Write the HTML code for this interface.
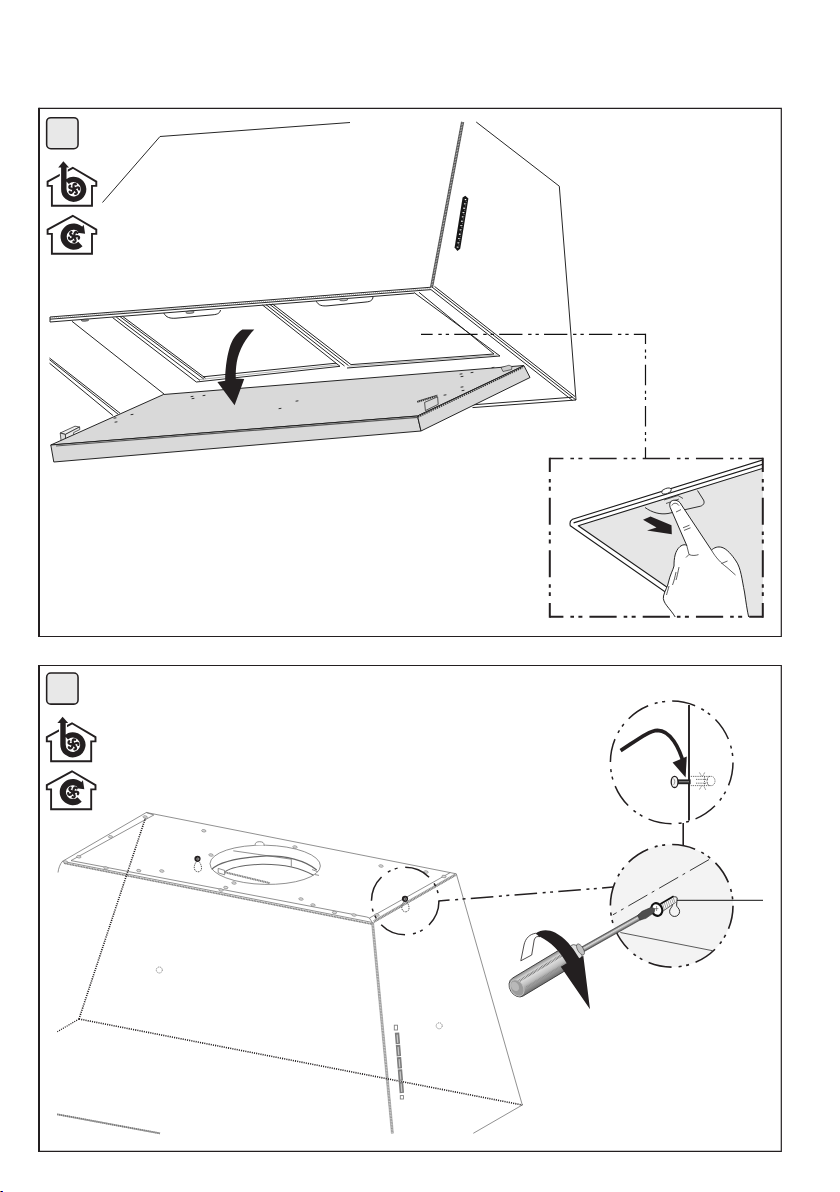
<!DOCTYPE html>
<html lang="en"><head><meta charset="utf-8"><title>Installation</title>
<style>
html,body{margin:0;padding:0;background:#fff;}
body{width:840px;height:1192px;overflow:hidden;font-family:"Liberation Sans",sans-serif;}
svg{display:block}
</style></head><body>
<svg width="840" height="1192" viewBox="0 0 840 1192">
<path d="M39.4,108.3 H781.3 V636.5 H39.4" fill="none" stroke="#231f20" stroke-width="1.2"/>
<path d="M39.0,107.7 V637.1" fill="none" stroke="#231f20" stroke-width="2"/>
<path d="M39.4,665.5 H781.3 V1151.3 H39.4" fill="none" stroke="#231f20" stroke-width="1.2"/>
<path d="M39.0,664.9 V1151.8999999999999" fill="none" stroke="#231f20" stroke-width="2"/>
<rect x="46.65" y="117.65" width="31.4" height="31.1" rx="4.2" fill="#e8e8e8" stroke="#231f20" stroke-width="1.55"/>
<rect x="46.65" y="673.0" width="31.4" height="31.1" rx="4.2" fill="#e8e8e8" stroke="#231f20" stroke-width="1.55"/>
<g>
<g fill="none" stroke="#231f20" stroke-width="1.9" stroke-linejoin="miter">
<path d="M72.8,167.8 L47.6,181.6 V185.9 H51.9 V205.8 H92 V185.9 H96.3 V181.6 Z"/>
</g>
<path d="M63.8,166 V189" stroke="#fff" stroke-width="8" fill="none"/>
<circle cx="74" cy="189" r="7.2" fill="#fff"/>
<path d="M63.8,166.5 V189 A9.9,9.9 0 1 0 67.0,182.0" fill="none" stroke="#231f20" stroke-width="5.4"/>
<path d="M63.4,161.2 L69,167.6 H58.2Z" fill="#231f20"/>
<g transform="translate(74,189) rotate(0) scale(1.13)" fill="none" stroke="#231f20" stroke-width="2.0" stroke-linecap="round">
<path transform="rotate(0)" d="M0,-0.8 C-0.5,-2 -0.7,-3.0 -0.3,-3.9 C0.1,-4.6 0.9,-4.7 1.7,-4.2"/>
<path transform="rotate(72)" d="M0,-0.8 C-0.5,-2 -0.7,-3.0 -0.3,-3.9 C0.1,-4.6 0.9,-4.7 1.7,-4.2"/>
<path transform="rotate(144)" d="M0,-0.8 C-0.5,-2 -0.7,-3.0 -0.3,-3.9 C0.1,-4.6 0.9,-4.7 1.7,-4.2"/>
<path transform="rotate(216)" d="M0,-0.8 C-0.5,-2 -0.7,-3.0 -0.3,-3.9 C0.1,-4.6 0.9,-4.7 1.7,-4.2"/>
<path transform="rotate(288)" d="M0,-0.8 C-0.5,-2 -0.7,-3.0 -0.3,-3.9 C0.1,-4.6 0.9,-4.7 1.7,-4.2"/>
<circle r="1.2" fill="#231f20" stroke="none"/></g>
<g fill="none" stroke="#231f20" stroke-width="1.9" stroke-linejoin="miter">
<path d="M72.8,215.8 L47.6,229.6 V233.9 H51.9 V253.8 H92 V233.9 H96.3 V229.6 Z"/>
</g>
<path d="M80.42,243.91 A10.0,10.0 0 1 1 81.26,230.17" fill="none" stroke="#231f20" stroke-width="6.2"/>
<path d="M83.7,224.8 L85.1,233.8 L77.4,232.8Z" fill="#231f20"/>
<g transform="translate(74.0,236.6) rotate(20) scale(1.13)" fill="none" stroke="#231f20" stroke-width="2.0" stroke-linecap="round">
<path transform="rotate(0)" d="M0,-0.8 C-0.5,-2 -0.7,-3.0 -0.3,-3.9 C0.1,-4.6 0.9,-4.7 1.7,-4.2"/>
<path transform="rotate(72)" d="M0,-0.8 C-0.5,-2 -0.7,-3.0 -0.3,-3.9 C0.1,-4.6 0.9,-4.7 1.7,-4.2"/>
<path transform="rotate(144)" d="M0,-0.8 C-0.5,-2 -0.7,-3.0 -0.3,-3.9 C0.1,-4.6 0.9,-4.7 1.7,-4.2"/>
<path transform="rotate(216)" d="M0,-0.8 C-0.5,-2 -0.7,-3.0 -0.3,-3.9 C0.1,-4.6 0.9,-4.7 1.7,-4.2"/>
<path transform="rotate(288)" d="M0,-0.8 C-0.5,-2 -0.7,-3.0 -0.3,-3.9 C0.1,-4.6 0.9,-4.7 1.7,-4.2"/>
<circle r="1.2" fill="#231f20" stroke="none"/></g>
</g>
<g transform="translate(-0.8,555.5)">
<g fill="none" stroke="#231f20" stroke-width="1.9" stroke-linejoin="miter">
<path d="M72.8,167.8 L47.6,181.6 V185.9 H51.9 V205.8 H92 V185.9 H96.3 V181.6 Z"/>
</g>
<path d="M63.8,166 V189" stroke="#fff" stroke-width="8" fill="none"/>
<circle cx="74" cy="189" r="7.2" fill="#fff"/>
<path d="M63.8,166.5 V189 A9.9,9.9 0 1 0 67.0,182.0" fill="none" stroke="#231f20" stroke-width="5.4"/>
<path d="M63.4,161.2 L69,167.6 H58.2Z" fill="#231f20"/>
<g transform="translate(74,189) rotate(0) scale(1.13)" fill="none" stroke="#231f20" stroke-width="2.0" stroke-linecap="round">
<path transform="rotate(0)" d="M0,-0.8 C-0.5,-2 -0.7,-3.0 -0.3,-3.9 C0.1,-4.6 0.9,-4.7 1.7,-4.2"/>
<path transform="rotate(72)" d="M0,-0.8 C-0.5,-2 -0.7,-3.0 -0.3,-3.9 C0.1,-4.6 0.9,-4.7 1.7,-4.2"/>
<path transform="rotate(144)" d="M0,-0.8 C-0.5,-2 -0.7,-3.0 -0.3,-3.9 C0.1,-4.6 0.9,-4.7 1.7,-4.2"/>
<path transform="rotate(216)" d="M0,-0.8 C-0.5,-2 -0.7,-3.0 -0.3,-3.9 C0.1,-4.6 0.9,-4.7 1.7,-4.2"/>
<path transform="rotate(288)" d="M0,-0.8 C-0.5,-2 -0.7,-3.0 -0.3,-3.9 C0.1,-4.6 0.9,-4.7 1.7,-4.2"/>
<circle r="1.2" fill="#231f20" stroke="none"/></g>
<g fill="none" stroke="#231f20" stroke-width="1.9" stroke-linejoin="miter">
<path d="M72.8,215.8 L47.6,229.6 V233.9 H51.9 V253.8 H92 V233.9 H96.3 V229.6 Z"/>
</g>
<path d="M80.42,243.91 A10.0,10.0 0 1 1 81.26,230.17" fill="none" stroke="#231f20" stroke-width="6.2"/>
<path d="M83.7,224.8 L85.1,233.8 L77.4,232.8Z" fill="#231f20"/>
<g transform="translate(74.0,236.6) rotate(20) scale(1.13)" fill="none" stroke="#231f20" stroke-width="2.0" stroke-linecap="round">
<path transform="rotate(0)" d="M0,-0.8 C-0.5,-2 -0.7,-3.0 -0.3,-3.9 C0.1,-4.6 0.9,-4.7 1.7,-4.2"/>
<path transform="rotate(72)" d="M0,-0.8 C-0.5,-2 -0.7,-3.0 -0.3,-3.9 C0.1,-4.6 0.9,-4.7 1.7,-4.2"/>
<path transform="rotate(144)" d="M0,-0.8 C-0.5,-2 -0.7,-3.0 -0.3,-3.9 C0.1,-4.6 0.9,-4.7 1.7,-4.2"/>
<path transform="rotate(216)" d="M0,-0.8 C-0.5,-2 -0.7,-3.0 -0.3,-3.9 C0.1,-4.6 0.9,-4.7 1.7,-4.2"/>
<path transform="rotate(288)" d="M0,-0.8 C-0.5,-2 -0.7,-3.0 -0.3,-3.9 C0.1,-4.6 0.9,-4.7 1.7,-4.2"/>
<circle r="1.2" fill="#231f20" stroke="none"/></g>
</g>
<path d="M102.50,202.50 L160.00,136.50 L350.00,122.50" fill="none" stroke="#1a1a1a" stroke-width="0.95" />
<path d="M462.60,122.00 L431.60,287.00" fill="none" stroke="#b8b8b8" stroke-width="2.3" />
<path d="M462.60,122.00 L431.60,287.00" fill="none" stroke="#1a1a1a" stroke-width="2.3" stroke-dasharray="0.55 1.0" opacity="0.8"/>
<path d="M461.47,121.79 L430.47,286.79" fill="none" stroke="#1a1a1a" stroke-width="0.6" />
<path d="M463.73,122.21 L432.73,287.21" fill="none" stroke="#1a1a1a" stroke-width="0.6" />
<path d="M476.20,122.00 L559.30,186.20 L568.30,300.00 L576.00,400.00" fill="none" stroke="#1a1a1a" stroke-width="0.95" />
<path d="M465.3,195.8 L468.4,198.6 L460.2,248.8 L457.4,251 L454.6,247.6 L462.6,197.6Z" fill="#161616"/>
<path d="M465.60,199.00 L457.40,247.60" fill="none" stroke="#fff" stroke-width="1.5" stroke-dasharray="1.1 3.3"/>
<path d="M466.30,201.20 L458.40,248.00" fill="none" stroke="#ddd" stroke-width="0.6" stroke-dasharray="0.8 1.4"/>
<path d="M50.00,317.00 L431.50,287.20" fill="none" stroke="#1a1a1a" stroke-width="0.95" />
<path d="M50.00,319.20 L431.00,289.60" fill="none" stroke="#1a1a1a" stroke-width="0.95" />
<path d="M50.00,318.10 L431.00,288.40" fill="none" stroke="#888" stroke-width="1.6" stroke-dasharray="0.6 1.4"/>
<path d="M50.00,322.00 L414.00,293.20" fill="none" stroke="#1a1a1a" stroke-width="0.95" />
<path d="M50.00,317.00 L50.00,322.00" fill="none" stroke="#1a1a1a" stroke-width="0.95" />
<path d="M432.00,287.00 L576.00,400.00" fill="none" stroke="#1a1a1a" stroke-width="0.95" />
<path d="M434.50,286.40 L575.00,396.50" fill="none" stroke="#1a1a1a" stroke-width="0.95" />
<path d="M431.00,289.60 L572.50,400.50" fill="none" stroke="#1a1a1a" stroke-width="0.95" />
<path d="M472.50,407.60 L576.00,400.00" fill="none" stroke="#1a1a1a" stroke-width="0.95" />
<path d="M470.50,405.00 L572.50,397.20" fill="none" stroke="#1a1a1a" stroke-width="0.95" />
<path d="M72.00,321.30 L164.00,394.00" fill="none" stroke="#1a1a1a" stroke-width="0.95" />
<path d="M49.50,358.00 L120.00,413.20" fill="none" stroke="#1a1a1a" stroke-width="0.95" />
<path d="M49.50,359.70 L118.00,414.10" fill="none" stroke="#1a1a1a" stroke-width="0.95" />
<path d="M49.50,363.20 L113.00,415.60" fill="none" stroke="#1a1a1a" stroke-width="0.95" />
<path d="M112.50,317.50 L196.30,382.00" fill="none" stroke="#1a1a1a" stroke-width="0.95" />
<path d="M116.30,317.10 L200.00,380.40" fill="none" stroke="#1a1a1a" stroke-width="0.95" />
<path d="M120.00,316.60 L203.80,379.00" fill="none" stroke="#1a1a1a" stroke-width="0.95" />
<path d="M122.50,316.30 L205.50,378.20" fill="none" stroke="#1a1a1a" stroke-width="0.95" />
<path d="M196.30,382.00 L340.00,366.30" fill="none" stroke="#1a1a1a" stroke-width="0.95" />
<path d="M203.00,376.80 L336.00,363.20" fill="none" stroke="#1a1a1a" stroke-width="0.95" />
<path d="M200.00,379.50 L338.00,364.80" fill="none" stroke="#666" stroke-width="0.5" />
<path d="M262.50,305.00 L340.00,366.30" fill="none" stroke="#1a1a1a" stroke-width="0.95" />
<path d="M266.00,304.60 L344.50,366.00" fill="none" stroke="#1a1a1a" stroke-width="0.95" />
<path d="M269.50,304.20 L348.50,365.60" fill="none" stroke="#1a1a1a" stroke-width="0.95" />
<path d="M272.50,304.00 L351.00,364.60" fill="none" stroke="#1a1a1a" stroke-width="0.95" />
<path d="M347.00,368.00 L500.00,356.00" fill="none" stroke="#1a1a1a" stroke-width="0.95" />
<path d="M351.00,364.60 L494.00,354.00" fill="none" stroke="#1a1a1a" stroke-width="0.95" />
<path d="M349.00,366.20 L497.00,355.00" fill="none" stroke="#666" stroke-width="0.5" />
<path d="M414.00,292.50 L500.00,356.00" fill="none" stroke="#1a1a1a" stroke-width="0.95" />
<path d="M419.00,292.30 L494.00,354.00" fill="none" stroke="#1a1a1a" stroke-width="0.95" />
<path d="M163.8,313 C166,317.5 170,318.6 176,318.2 L213,314.8 C218,314.4 220,312.8 220.5,310" fill="none" stroke="#1a1a1a" stroke-width="0.95"/>
<ellipse cx="190" cy="312.2" rx="4.2" ry="1.2" fill="#bbb" stroke="#1a1a1a" stroke-width="0.6" transform="rotate(-4 190 312.2)"/>
<path d="M316.3,301.2 C318.5,305.5 322,306.3 328,305.8 L366,302 C371,301.6 372.6,300 373,297" fill="none" stroke="#1a1a1a" stroke-width="0.95"/>
<ellipse cx="343.8" cy="299.6" rx="4.2" ry="1.2" fill="#bbb" stroke="#1a1a1a" stroke-width="0.6" transform="rotate(-4 343.8 299.6)"/>
<ellipse cx="85" cy="320.2" rx="3.8" ry="1" fill="#999" stroke="#1a1a1a" stroke-width="0.6" transform="rotate(-4 85 320.2)"/>
<path d="M60.20,433.00 L75.00,426.20 L79.60,427.00 L65.40,434.40Z" fill="#eee" stroke="#1a1a1a" stroke-width="0.7" stroke-linejoin="round" />
<path d="M60.20,433.00 L65.40,434.40 L65.80,442.00 L61.40,443.60Z" fill="#ddd" stroke="#1a1a1a" stroke-width="0.7" stroke-linejoin="round" />
<path d="M65.40,434.40 L79.60,427.00 L79.80,429.60 L73.60,432.60 L74.00,437.60 L65.80,442.00Z" fill="#e8e8e8" stroke="#1a1a1a" stroke-width="0.7" stroke-linejoin="round" />
<path d="M163.50,394.50 L524.00,365.50 L417.50,416.00 L50.80,445.00Z" fill="#d9d9d9" stroke="#1a1a1a" stroke-width="0.95" stroke-linejoin="round" />
<path d="M50.80,445.00 L417.50,416.00 L421.00,431.00 L53.80,462.00Z" fill="#d9d9d9" stroke="#1a1a1a" stroke-width="0.95" stroke-linejoin="round" />
<path d="M417.50,416.00 L524.00,365.80 L530.00,377.50 L421.00,431.00Z" fill="#d9d9d9" stroke="#1a1a1a" stroke-width="0.95" stroke-linejoin="round" />
<path d="M56.00,446.00 L417.60,417.40" fill="none" stroke="#5a5a5a" stroke-width="1.2" />
<path d="M418.00,417.00 L522.50,367.60" fill="none" stroke="#333" stroke-width="1.6" stroke-dasharray="1.4 0.9"/>
<path d="M424.60,402.40 L437.60,396.80 L438.20,404.40 L425.40,410.60Z" fill="#d9d9d9" stroke="#1a1a1a" stroke-width="0.7" stroke-linejoin="round" />
<path d="M417.30,402.00 L437.40,395.80" fill="none" stroke="#333" stroke-width="1.7" stroke-dasharray="1.2 0.7"/>
<path d="M417.30,401.30 L437.40,395.10" fill="none" stroke="#1a1a1a" stroke-width="0.6" />
<path d="M501.00,367.50 L509.00,365.20 L512.00,366.50 L511.50,369.50 L503.00,371.50Z" fill="#ccc" stroke="#1a1a1a" stroke-width="0.6" stroke-linejoin="round" />
<path d="M190.60,396.70 L193.40,396.30" fill="none" stroke="#333" stroke-width="1.0" />
<path d="M191.60,398.70 L194.40,398.30" fill="none" stroke="#333" stroke-width="1.0" />
<path d="M202.60,395.70 L205.40,395.30" fill="none" stroke="#333" stroke-width="1.0" />
<path d="M113.60,418.20 L116.40,417.80" fill="none" stroke="#333" stroke-width="1.0" />
<path d="M114.60,422.20 L117.40,421.80" fill="none" stroke="#333" stroke-width="1.0" />
<path d="M130.60,414.70 L133.40,414.30" fill="none" stroke="#333" stroke-width="1.0" />
<path d="M278.60,408.70 L281.40,408.30" fill="none" stroke="#333" stroke-width="1.0" />
<path d="M295.60,401.20 L298.40,400.80" fill="none" stroke="#333" stroke-width="1.0" />
<path d="M459.60,374.20 L462.40,373.80" fill="none" stroke="#333" stroke-width="1.0" />
<path d="M460.60,376.70 L463.40,376.30" fill="none" stroke="#333" stroke-width="1.0" />
<path d="M470.60,372.70 L473.40,372.30" fill="none" stroke="#333" stroke-width="1.0" />
<path d="M460.60,387.20 L463.40,386.80" fill="none" stroke="#333" stroke-width="1.0" />
<path d="M461.60,390.70 L464.40,390.30" fill="none" stroke="#333" stroke-width="1.0" />
<path d="M443.60,395.20 L446.40,394.80" fill="none" stroke="#333" stroke-width="1.0" />
<path d="M491.60,367.70 L494.40,367.30" fill="none" stroke="#333" stroke-width="1.0" />
<path d="M242.4,329.6 L254.3,329.6 C246,338 239,350 236.8,362 C235.8,368 235.6,374 235.8,378.6 L244.2,379 L234.6,405.2 L217.4,382 L225.2,380.8 C225,372 226.5,358 229.5,348 C232,340 236,333.5 242.4,329.6Z" fill="#231f20"/>
<path d="M421.00,334.30 L645.50,334.30" fill="none" stroke="#111" stroke-width="1.2" stroke-dasharray="23.3 5.7 3.4 4 3.3 5.2" stroke-dashoffset="11.65"/>
<path d="M645.50,333.70 L645.50,458.10" fill="none" stroke="#111" stroke-width="1.2" stroke-dasharray="20.6 5.5 3 3.3 3 5.87" stroke-dashoffset="10.3"/>
<clipPath id="c1"><rect x="550" y="458.6" width="213" height="158.4"/></clipPath>
<g clip-path="url(#c1)">
<path d="M578.30,525.80 L765.00,467.60 L765.00,618.00 L711.50,618.00Z" fill="#e6e6e6" stroke="none" stroke-width="0" stroke-linejoin="round" />
<path d="M572.5,519.2 L765,459.3 L765,467.6 L578.3,525.8 L711.5,618 L702.6,618 L570.3,525.8 C569.6,523 570.4,520.4 572.5,519.2Z" fill="#fff" stroke="#1a1a1a" stroke-width="1.1" stroke-linejoin="round"/>
<path d="M573.60,522.90 L765.00,463.50" fill="none" stroke="#1a1a1a" stroke-width="1.1" />
<path d="M645,507.5 C652,512.5 660,514.8 668,513.5 L700.5,506.2 C704,505 704.8,502.5 703.5,500 L697.5,490.5" fill="none" stroke="#1a1a1a" stroke-width="0.9"/>
<ellipse cx="666.5" cy="491" rx="5" ry="2.6" fill="#fff" stroke="#1a1a1a" stroke-width="0.8" transform="rotate(-18 666.5 491)"/>
<path d="M664,500 l14,-4.5 l5,3 M666,503.5 l13,-4.5" fill="none" stroke="#1a1a1a" stroke-width="0.7"/>
<path d="M643,519.8 L650.5,516.6 L671.5,525.2 L671.8,534.2 L647,530.6 L656.5,527.6Z" fill="#231f20"/>
<path d="M675.5,617.5 C670,608 662,603 663.5,596 C665,590 668,586 668.5,582 C670,575 673,570 674,566 C674,558 675,551 680,546.5 C683,544.2 685.5,544.4 686.8,545.6 L670.2,507.5 C668.5,502.5 671.5,500 675,500.2 C678,500.5 680,502 681.5,505 L711.5,550.2 C714,547.5 718,546.2 722,547.4 C727,549 732,555 736,561 C741,568 742,580 744.5,592 C746,602 747,610 749,618.5 Z" fill="#fff" stroke="#1a1a1a" stroke-width="0.95" stroke-linejoin="round"/>
<path d="M686.8,545.6 L689,554.5 C692,556 696,555.5 698.5,554.6 M689,554.5 L686,557.5 M711.5,550.2 C716,558 721,563 727,567.5 L735.5,575 M721.5,563.5 L727.5,561 M676,572 C675,577 674,581 672.5,585 M679,567 C678,572 677,577 676,580 M669,586 C668,590 667,593 666.5,595 M683,527.8 l6.5,-2.6 M684,530.4 l6.5,-2.6 M676,512 l5,-2.4 M671.8,505.5 C673,502.6 677,502.4 679,505.6" fill="none" stroke="#1a1a1a" stroke-width="0.7"/>
</g>
<path d="M549.80,458.50 L762.80,458.50" fill="none" stroke="#231f20" stroke-width="1.3" stroke-dasharray="27.2 7 3.6 4.4 4 7.05" stroke-dashoffset="13.6"/>
<path d="M549.80,616.80 L762.80,616.80" fill="none" stroke="#231f20" stroke-width="1.9" stroke-dasharray="27.2 7 3.6 4.4 4 7.05" stroke-dashoffset="13.6"/>
<path d="M549.80,457.85 L549.80,617.75" fill="none" stroke="#231f20" stroke-width="2.0" stroke-dasharray="27 6.9 3.5 4.4 3.9 6.98" stroke-dashoffset="12.85"/>
<path d="M762.80,457.85 L762.80,617.75" fill="none" stroke="#231f20" stroke-width="2.0" stroke-dasharray="27 6.9 3.5 4.4 3.9 6.98" stroke-dashoffset="12.85"/>
<path d="M146.30,812.50 L456.30,873.80" fill="none" stroke="#666" stroke-width="0.72" />
<path d="M146.30,812.50 L62.50,861.30" fill="none" stroke="#666" stroke-width="0.72" />
<path d="M153.80,815.00 L71.00,860.60" fill="none" stroke="#666" stroke-width="0.72" />
<path d="M62.50,861.30 L372.50,922.50" fill="none" stroke="#666" stroke-width="0.72" />
<path d="M71.00,860.60 L366.80,917.00" fill="none" stroke="#666" stroke-width="0.72" />
<path d="M146.30,812.50 L153.80,815.00" fill="none" stroke="#666" stroke-width="0.72" />
<path d="M62.5,861.3 C60,864 58.6,868 58,872.5" fill="none" stroke="#666" stroke-width="0.72"/>
<path d="M64.00,863.20 L372.40,924.20" fill="none" stroke="#bbb" stroke-width="1.5" />
<path d="M64.00,863.20 L372.40,924.20" fill="none" stroke="#666" stroke-width="1.5" stroke-dasharray="0.6 1.0"/>
<path d="M369.40,918.00 L450.40,872.50" fill="none" stroke="#666" stroke-width="0.72" />
<path d="M372.80,923.20 L456.30,875.20" fill="none" stroke="#666" stroke-width="0.5" />
<path d="M373.40,920.60 L455.60,873.60" fill="none" stroke="#666" stroke-width="0.5" />
<path d="M374.00,921.60 L456.00,874.60" fill="none" stroke="#c4c4c4" stroke-width="2.0" />
<path d="M374.00,921.60 L456.00,874.60" fill="none" stroke="#666" stroke-width="2.0" stroke-dasharray="0.6 1.0"/>
<path d="M369.40,918.00 L372.60,923.00" fill="none" stroke="#666" stroke-width="0.72" />
<path d="M366.80,917.00 L369.40,918.00" fill="none" stroke="#666" stroke-width="0.72" />
<path d="M372.60,923.00 L392.40,1133.30" fill="none" stroke="#d2d2d2" stroke-width="2.0" />
<path d="M372.60,923.00 L392.40,1133.30" fill="none" stroke="#777" stroke-width="2.0" stroke-dasharray="0.55 1.0" opacity="0.8"/>
<path d="M371.60,923.09 L391.40,1133.39" fill="none" stroke="#777" stroke-width="0.45" />
<path d="M373.60,922.91 L393.40,1133.21" fill="none" stroke="#777" stroke-width="0.45" />
<path d="M456.30,873.80 L522.30,1105.00" fill="none" stroke="#666" stroke-width="0.72" />
<path d="M522.30,1105.00 L473.30,1133.30" fill="none" stroke="#666" stroke-width="0.72" />
<path d="M145.60,817.50 L79.00,1019.00" fill="none" stroke="#231f20" stroke-width="1.6" stroke-dasharray="1.1 1.1"/>
<path d="M79.00,1019.00 L522.30,1105.00" fill="none" stroke="#231f20" stroke-width="1.6" stroke-dasharray="1.1 1.1"/>
<path d="M79.00,1019.00 L57.30,1031.70" fill="none" stroke="#231f20" stroke-width="1.2" stroke-dasharray="1.1 1.1"/>
<path d="M57.30,1114.30 L160.00,1133.40" fill="none" stroke="#a8a8a8" stroke-width="1.8" />
<path d="M57.30,1114.30 L160.00,1133.40" fill="none" stroke="#666" stroke-width="1.8" stroke-dasharray="0.7 1.3"/>
<g fill="none" stroke="#666" stroke-width="0.72">
<ellipse cx="265.2" cy="864.8" rx="55.2" ry="19.6" transform="rotate(1.2 265.2 864.8)"/>
<path d="M255.2,845.2 v-0.6 a4.4,3 0 1 1 8.8,0.2 v0.8" fill="#fff"/>
<path d="M211.7,869.4 C220,861 240,857.4 266.7,855.8 C285,855.6 305,860 316.7,870" stroke-width="1.3"/>
<path d="M225,871.7 C232,867 245,865 262,864.2 C280,864 300,867.5 313.5,875.2" stroke-width="1.1"/>
<path d="M233.3,850.8 L291.3,859.2 V866.6"/>
<path d="M219,870.8 L270,883.2" stroke="#c0c0c0" stroke-width="1.9"/>
<path d="M219,870.8 L270,883.2" stroke="#666" stroke-width="1.9" stroke-dasharray="0.6 1.1"/>
<path d="M218.2,868.4 l6.4,2 v4.4 l-6.4,-2z" fill="#fff"/>
<path d="M312,869.5 l5.5,2.2 M315,874.6 l4,0.8"/>
</g>
<ellipse cx="110.5" cy="836.8" rx="2.2" ry="1.2" fill="#ddd" stroke="#777" stroke-width="0.6" transform="rotate(10 110.5 836.8)"/>
<ellipse cx="78.8" cy="856.8" rx="2.2" ry="1.2" fill="#ddd" stroke="#777" stroke-width="0.6" transform="rotate(10 78.8 856.8)"/>
<ellipse cx="145.2" cy="817" rx="2.2" ry="1.2" fill="#ddd" stroke="#777" stroke-width="0.6" transform="rotate(10 145.2 817)"/>
<ellipse cx="65.5" cy="862" rx="2.2" ry="1.2" fill="#ddd" stroke="#777" stroke-width="0.6" transform="rotate(10 65.5 862)"/>
<ellipse cx="106" cy="868" rx="2.2" ry="1.2" fill="#ddd" stroke="#777" stroke-width="0.6" transform="rotate(10 106 868)"/>
<ellipse cx="138.8" cy="870.6" rx="2.2" ry="1.2" fill="#ddd" stroke="#777" stroke-width="0.6" transform="rotate(10 138.8 870.6)"/>
<ellipse cx="161.8" cy="871" rx="2.2" ry="1.2" fill="#ddd" stroke="#777" stroke-width="0.6" transform="rotate(10 161.8 871)"/>
<ellipse cx="203.8" cy="830.8" rx="2.2" ry="1.2" fill="#ddd" stroke="#777" stroke-width="0.6" transform="rotate(10 203.8 830.8)"/>
<ellipse cx="221" cy="890" rx="2.2" ry="1.2" fill="#ddd" stroke="#777" stroke-width="0.6" transform="rotate(10 221 890)"/>
<ellipse cx="225.8" cy="887.5" rx="2.2" ry="1.2" fill="#ddd" stroke="#777" stroke-width="0.6" transform="rotate(10 225.8 887.5)"/>
<ellipse cx="301" cy="899" rx="2.2" ry="1.2" fill="#ddd" stroke="#777" stroke-width="0.6" transform="rotate(10 301 899)"/>
<ellipse cx="313" cy="905" rx="2.2" ry="1.2" fill="#ddd" stroke="#777" stroke-width="0.6" transform="rotate(10 313 905)"/>
<ellipse cx="334.5" cy="912.5" rx="2.2" ry="1.2" fill="#ddd" stroke="#777" stroke-width="0.6" transform="rotate(10 334.5 912.5)"/>
<ellipse cx="354" cy="915" rx="2.2" ry="1.2" fill="#ddd" stroke="#777" stroke-width="0.6" transform="rotate(10 354 915)"/>
<ellipse cx="377" cy="915" rx="2.2" ry="1.2" fill="#ddd" stroke="#777" stroke-width="0.6" transform="rotate(10 377 915)"/>
<ellipse cx="444" cy="876.5" rx="2.2" ry="1.2" fill="#ddd" stroke="#777" stroke-width="0.6" transform="rotate(10 444 876.5)"/>
<ellipse cx="426" cy="872" rx="2.2" ry="1.2" fill="#ddd" stroke="#777" stroke-width="0.6" transform="rotate(10 426 872)"/>
<ellipse cx="381" cy="866" rx="2.2" ry="1.2" fill="#ddd" stroke="#777" stroke-width="0.6" transform="rotate(10 381 866)"/>
<ellipse cx="295" cy="847" rx="2.2" ry="1.2" fill="#ddd" stroke="#777" stroke-width="0.6" transform="rotate(10 295 847)"/>
<ellipse cx="211" cy="855" rx="2.2" ry="1.2" fill="#ddd" stroke="#777" stroke-width="0.6" transform="rotate(10 211 855)"/>
<ellipse cx="234" cy="883" rx="2.2" ry="1.2" fill="#ddd" stroke="#777" stroke-width="0.6" transform="rotate(10 234 883)"/>
<circle cx="197.5" cy="858.8" r="3.1" fill="#231f20"/><circle cx="197.8" cy="859.0" r="1.1" fill="none" stroke="#fff" stroke-width="0.5"/>
<path d="M195.9,862.4 C192.9,866.8 194.1,871.8 198.1,871.8 C202.1,871.8 202.7,866.8 199.5,862.1999999999999" fill="none" stroke="#222" stroke-width="0.75" stroke-dasharray="1.4 0.9"/>
<circle cx="405" cy="898.8" r="3.1" fill="#231f20"/><circle cx="405.3" cy="899.0" r="1.1" fill="none" stroke="#fff" stroke-width="0.5"/>
<path d="M403.4,902.4 C400.4,906.8 401.6,911.8 405.6,911.8 C409.6,911.8 410.2,906.8 407,902.1999999999999" fill="none" stroke="#222" stroke-width="0.75" stroke-dasharray="1.4 0.9"/>
<circle cx="159.3" cy="970" r="3" fill="none" stroke="#333" stroke-width="0.6" stroke-dasharray="1.2 0.9"/>
<circle cx="439.2" cy="1025.8" r="3" fill="none" stroke="#333" stroke-width="0.6" stroke-dasharray="1.2 0.9"/>
<path d="M397.00,1032.60 L401.90,1093.60" fill="none" stroke="#7d7d7d" stroke-width="4.4" stroke-dasharray="11.4 0.9"/>
<path d="M397.10,1034.60 L401.80,1092.00" fill="none" stroke="#c8c8c8" stroke-width="1.2" stroke-dasharray="8.3 4"/>
<rect x="394.3" y="1025.2" width="3.2" height="4.8" fill="#fff" stroke="#808080" stroke-width="0.9"/>
<rect x="400.3" y="1095.6" width="3.2" height="3.4" fill="#fff" stroke="#808080" stroke-width="0.9"/>
<circle cx="405.2" cy="901" r="33.75" fill="none" stroke="#231f20" stroke-width="1.5" stroke-dasharray="26.5 8 3 4.5 3 8.01" transform="rotate(-90 405.2 901)"/>
<path d="M438.30,901.00 L613.30,887.10" fill="none" stroke="#231f20" stroke-width="1.5" stroke-dasharray="22.6 5.6 3 4.4 3 5.3" stroke-dashoffset="11.3"/>
<circle cx="671.7" cy="905.8" r="61.3" fill="#f3f3f3" stroke="#231f20" stroke-width="1.6" stroke-dasharray="23.5 6.9 3 4.6 3 7.15"/>
<circle cx="671.7" cy="762.4" r="61.3" fill="#fff" stroke="#231f20" stroke-width="1.5" stroke-dasharray="23.5 6.9 3 4.6 3 7.15"/>
<path d="M683.20,823.00 L683.20,845.00" fill="none" stroke="#231f20" stroke-width="1.6" />
<path d="M689.00,705.00 L689.00,820.50" fill="none" stroke="#231f20" stroke-width="1.9" />
<path d="M620.6,750.6 C637,740 649,730.6 657.5,730.4 C670.5,730.4 679.5,748 684,765" fill="none" stroke="#231f20" stroke-width="3.7"/>
<path d="M672.6,762.6 L686.8,756.6 L685.6,777.4Z" fill="#231f20"/>
<path d="M677.00,781.80 L690.60,781.80" fill="none" stroke="#222" stroke-width="4.8" />
<path d="M679.00,781.80 L689.00,781.80" fill="none" stroke="#999" stroke-width="1.0" />
<ellipse cx="674.6" cy="781.9" rx="3.4" ry="5.6" fill="#f4f4f4" stroke="#231f20" stroke-width="1.3"/>
<path d="M673.6,778.6 c1.6,1.6 1.6,4.6 0,6.2" fill="none" stroke="#555" stroke-width="0.6"/>
<path d="M690.8,776.4 H711.4 a3.6,4.6 0 0 1 0,9.2 H690.8 M704.5,776.4 v9.2 M710,776.4 a3,4.6 0 0 0 0,9.2 M699.5,772.6 l2.4,4 M704.6,772.6 l-2,4 M699.5,789.4 l2.4,-4 M705.6,789.6 l-2,-4 M696,779.4 h12 M696,783.2 h12" fill="none" stroke="#333" stroke-width="0.7" stroke-dasharray="1.3 0.9"/>
<path d="M612.90,914.80 L709.70,859.20" fill="none" stroke="#222" stroke-width="0.9" stroke-dasharray="22 5 3 5.5" stroke-dashoffset="17.7"/>
<path d="M620.40,932.50 L712.50,950.70" fill="none" stroke="#333" stroke-width="0.8" />
<path d="M676.50,900.30 L763.00,900.30" fill="none" stroke="#111" stroke-width="1.0" />
<path d="M671.8,897.6 C672.4,896.4 676.6,896.4 677.2,897.8 L676.6,905 C676.5,906.4 677.4,907 678.2,908 A5,5 0 1 1 670.8,908.2 C671.8,907 672.4,906 672.3,905Z" fill="#f3f3f3" stroke="#1a1a1a" stroke-width="0.9"/>
<path d="M660.8,903.8 L673.3,896.3 L675.4,902.5 L663.3,910.8Z" fill="#fff" stroke="none"/>
<path d="M662.6,904 l1.8,5.6 M664.4,902.9 l1.8,5.6 M666.2,901.8 l1.8,5.4 M668,900.8 l1.8,5.2 M669.8,899.7 l1.8,5 M671.6,898.6 l1.8,4.8 M673.2,897.6 l1.6,4.6" stroke="#666" stroke-width="0.6" fill="none"/>
<path d="M660.40,904.00 L673.60,896.20" fill="none" stroke="#111" stroke-width="1.7" />
<path d="M663.30,910.90 L675.60,902.40" fill="none" stroke="#222" stroke-width="0.7" />
<ellipse cx="656.8" cy="909.5" rx="5.3" ry="6.5" fill="#fff" stroke="#111" stroke-width="2.1" transform="rotate(-25 656.8 909.5)"/>
<path d="M656.6,906 v5 M654.8,908.6 h3.6" stroke="#444" stroke-width="0.6"/>
<defs><linearGradient id="hg" x1="0" y1="0" x2="0" y2="1"><stop offset="0" stop-color="#8a8a8a"/><stop offset="0.25" stop-color="#e9e9e9"/><stop offset="0.55" stop-color="#c4c4c4"/><stop offset="1" stop-color="#6e6e6e"/></linearGradient>
<linearGradient id="sg" x1="0" y1="0" x2="0" y2="1"><stop offset="0" stop-color="#555"/><stop offset="0.4" stop-color="#ddd"/><stop offset="1" stop-color="#555"/></linearGradient></defs>
<g transform="translate(583,949.2) rotate(-29.4)">
<rect x="0" y="-2.6" width="72" height="5.2" fill="url(#sg)" stroke="#3a3a3a" stroke-width="0.6"/>
<path d="M64,-2.6 L70,-4 L80,-3 L82.5,0 L80,3 L70,4 L64,2.6Z" fill="#4d4d4d" stroke="#2a2a2a" stroke-width="0.5"/>
</g>
<path d="M535.8,933.3 C530,934 525.5,938 524,945 L520.8,960.8 L531.7,955 L534.2,940 C535,937 537,936 540,936.7Z" fill="#fff" stroke="#231f20" stroke-width="0.8"/>
<g transform="translate(517.4,987.3) rotate(-31)">
<rect x="-7.6" y="-10.4" width="71" height="20.8" rx="8" ry="10.4" fill="url(#hg)" stroke="#333" stroke-width="0.8"/>
<path d="M4,-4.6 H58" stroke="#6e6e6e" stroke-width="2.6" stroke-dasharray="0.8 0.7" fill="none"/>
<path d="M8,4.6 H58" stroke="#8f8f8f" stroke-width="2.2" stroke-dasharray="0.8 0.7" fill="none"/>
<ellipse cx="-0.6" cy="0.4" rx="6.2" ry="8.8" fill="#9c9c9c" stroke="#c4c4c4" stroke-width="0.8"/>
<ellipse cx="-1.6" cy="-2" rx="3.6" ry="5" fill="#b9b9b9"/>
<ellipse cx="68" cy="0" rx="5.6" ry="8.2" fill="#e0e0e0" stroke="#444" stroke-width="0.7"/>
<ellipse cx="73.6" cy="0" rx="2.8" ry="6.2" fill="#c2c2c2" stroke="#444" stroke-width="0.6"/>
</g>
<path d="M535.8,933.3 C541,929.5 548,929 555,932.5 C565,938 572,946 579.2,958.3 L583.3,955.8 L590,1009.2 L560.8,966.7 L566.7,963.3 C560,951 551,942 540,936.7Z" fill="#231f20"/>
<rect x="0" y="1191" width="1" height="1" fill="#a06a30"/><rect x="1" y="1191" width="1" height="1" fill="#000"/><rect x="2" y="1191" width="1" height="1" fill="#00f"/>
</svg>
</body></html>
